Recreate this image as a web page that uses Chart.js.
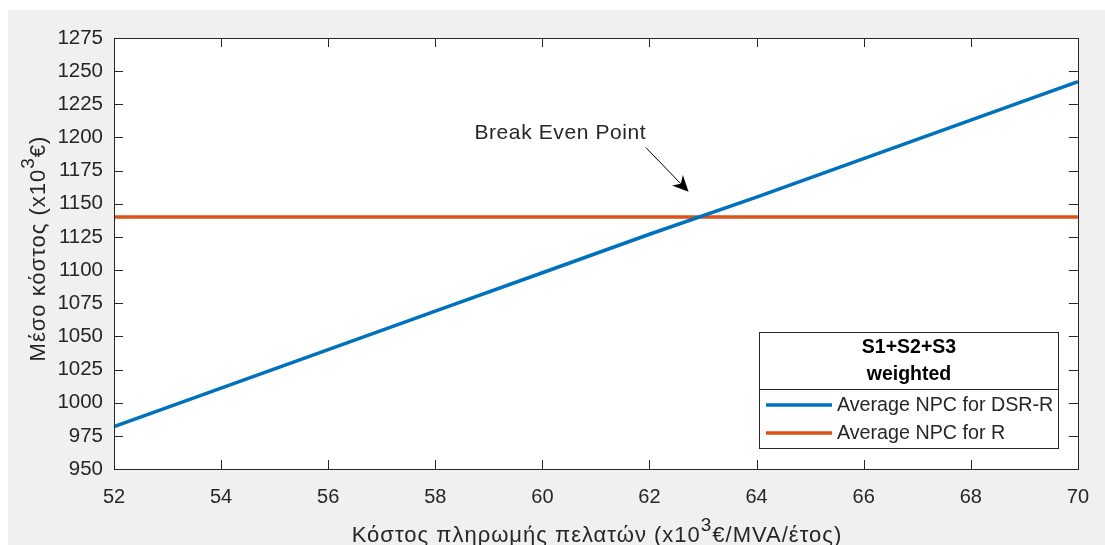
<!DOCTYPE html>
<html>
<head>
<meta charset="utf-8">
<script src="https://cdn.jsdelivr.net/npm/chart.js@4/dist/chart.umd.min.js"></script>
<style>
  html, body { margin: 0; padding: 0; background: #ffffff; }
  #wrap { width: 1105px; height: 545px; }
</style>
</head>
<body>
<div id="wrap"><canvas id="c" width="1105" height="545"></canvas></div>
<script>
// Customer payment cost (x10^3 €/MVA/year)
const paymentCost = [52, 54, 56, 58, 60, 62, 64, 66, 68, 70];
// Average NPC for DSR-R (x10^3 €)
const npcDsrR = [982, 1011, 1040, 1069, 1098, 1127, 1155, 1184, 1213, 1242];
// Average NPC for R (x10^3 €)
const npcR = [1140, 1140, 1140, 1140, 1140, 1140, 1140, 1140, 1140, 1140];

const xTicks = [52, 54, 56, 58, 60, 62, 64, 66, 68, 70];
const yTicks = [950, 975, 1000, 1025, 1050, 1075, 1100, 1125, 1150, 1175, 1200, 1225, 1250, 1275];

const seriesNames = ['Average NPC for DSR-R', 'Average NPC for R'];
const legendTitle = ['S1+S2+S3', 'weighted'];
// Axis titles, split so the exponent can be raised
const xTitleParts = ['Κόστος πληρωμής πελατών (x10', '3', '€/MVA/έτος)'];
const yTitleParts = ['Μέσο κόστος (x10', '3', '€)'];

// Annotation: label and arrow pointing at the crossing, in data units
const noteText = 'Break Even Point';
const noteAt = { x: 58.73, y: 1203.5 };
const arrowFrom = { x: 61.93, y: 1192.5 };
const arrowTo = { x: 62.73, y: 1159 };

const FONT = '"Liberation Sans", Arial, Helvetica, sans-serif';
const INK = '#262626';
const BLUE = '#0072BD';
const ORANGE = '#D95319';

const toPoints = (ys) => paymentCost.map((x, i) => ({ x: x, y: ys[i] }));

// Grey figure background and white axes area
const backdrop = {
  id: 'backdrop',
  beforeDraw(chart) {
    const { ctx, chartArea: a } = chart;
    ctx.save();
    ctx.fillStyle = '#ffffff';
    ctx.fillRect(0, 0, chart.width, chart.height);
    ctx.fillStyle = '#f0f0f0';
    ctx.fillRect(8, 10, chart.width - 8, chart.height - 10);
    ctx.fillStyle = '#ffffff';
    ctx.fillRect(a.left, a.top, a.right - a.left, a.bottom - a.top);
    ctx.restore();
  }
};

// Box frame with inward tick marks on all four sides
const axesBox = {
  id: 'axesBox',
  afterDatasetsDraw(chart) {
    const { ctx, chartArea: a, scales } = chart;
    const len = 9;
    ctx.save();
    ctx.strokeStyle = INK;
    ctx.lineWidth = 1;
    ctx.beginPath();
    xTicks.forEach(v => {
      const px = Math.round(scales.x.getPixelForValue(v)) + 0.5;
      ctx.moveTo(px, a.bottom); ctx.lineTo(px, a.bottom - len);
      ctx.moveTo(px, a.top); ctx.lineTo(px, a.top + len);
    });
    yTicks.forEach(v => {
      const py = Math.round(scales.y.getPixelForValue(v)) + 0.5;
      ctx.moveTo(a.left, py); ctx.lineTo(a.left + len, py);
      ctx.moveTo(a.right, py); ctx.lineTo(a.right - len, py);
    });
    ctx.stroke();
    ctx.strokeRect(Math.round(a.left) + 0.5, Math.round(a.top) + 0.5,
      Math.round(a.right - a.left), Math.round(a.bottom - a.top));
    ctx.restore();
  }
};

// Writes text with a raised exponent, centred on (0, 0) along the baseline
function drawWithExponent(ctx, parts, size, spacing) {
  const base = size + 'px ' + FONT;
  const sup = Math.round(size * 0.85) + 'px ' + FONT;
  ctx.letterSpacing = spacing + 'px';
  ctx.font = base; const w0 = ctx.measureText(parts[0]).width;
  ctx.font = sup;  const w1 = ctx.measureText(parts[1]).width;
  ctx.font = base; const w2 = ctx.measureText(parts[2]).width;
  let x = -(w0 + w1 + w2) / 2;
  ctx.textAlign = 'left';
  ctx.textBaseline = 'alphabetic';
  ctx.font = base; ctx.fillText(parts[0], x, 0); x += w0;
  ctx.font = sup;  ctx.fillText(parts[1], x, -size * 0.5); x += w1;
  ctx.font = base; ctx.fillText(parts[2], x, 0);
}

const axisTitles = {
  id: 'axisTitles',
  afterDraw(chart) {
    const { ctx, chartArea: a } = chart;
    ctx.save();
    ctx.fillStyle = INK;
    ctx.translate((a.left + a.right) / 2 + 1, 542);
    drawWithExponent(ctx, xTitleParts, 22, 1);
    ctx.restore();

    ctx.save();
    ctx.fillStyle = INK;
    ctx.translate(45, (a.top + a.bottom) / 2 - 5);
    ctx.rotate(-Math.PI / 2);
    drawWithExponent(ctx, yTitleParts, 22, 1);
    ctx.restore();
  }
};

// Text label with an arrow to the break-even point
const annotation = {
  id: 'annotation',
  afterDraw(chart) {
    const { ctx, scales } = chart;
    const sx = v => scales.x.getPixelForValue(v);
    const sy = v => scales.y.getPixelForValue(v);
    ctx.save();
    ctx.fillStyle = INK;
    ctx.font = '21px ' + FONT;
    ctx.letterSpacing = '0.6px';
    ctx.textAlign = 'left';
    ctx.textBaseline = 'middle';
    ctx.fillText(noteText, sx(noteAt.x), sy(noteAt.y));
    ctx.letterSpacing = '0px';

    const x0 = sx(arrowFrom.x), y0 = sy(arrowFrom.y);
    const x1 = sx(arrowTo.x), y1 = sy(arrowTo.y);
    const ang = Math.atan2(y1 - y0, x1 - x0);
    const hl = 16, hw = 7.5;
    ctx.strokeStyle = '#000000';
    ctx.fillStyle = '#000000';
    ctx.lineWidth = 1;
    ctx.beginPath();
    ctx.moveTo(x0, y0);
    ctx.lineTo(x1 - Math.cos(ang) * hl * 0.7, y1 - Math.sin(ang) * hl * 0.7);
    ctx.stroke();
    // notched arrowhead
    const bx = x1 - Math.cos(ang) * hl, by = y1 - Math.sin(ang) * hl;
    const nx = x1 - Math.cos(ang) * hl * 0.7, ny = y1 - Math.sin(ang) * hl * 0.7;
    const px = -Math.sin(ang), py = Math.cos(ang);
    ctx.beginPath();
    ctx.moveTo(x1, y1);
    ctx.lineTo(bx + px * hw, by + py * hw);
    ctx.lineTo(nx, ny);
    ctx.lineTo(bx - px * hw, by - py * hw);
    ctx.closePath();
    ctx.fill();
    ctx.restore();
  }
};

// Legend box with a two-line bold title
const legendBox = {
  id: 'legendBox',
  afterDraw(chart) {
    const { ctx } = chart;
    const L = 759.5, T = 332.5, R = 1058.5, B = 448.5, D = 389.5;
    ctx.save();
    ctx.fillStyle = '#ffffff';
    ctx.fillRect(L, T, R - L, B - T);
    ctx.strokeStyle = INK;
    ctx.lineWidth = 1;
    ctx.strokeRect(L, T, R - L, B - T);
    ctx.beginPath();
    ctx.moveTo(L, D); ctx.lineTo(R, D);
    ctx.stroke();

    ctx.fillStyle = '#000000';
    ctx.font = 'bold 19.5px ' + FONT;
    ctx.textAlign = 'center';
    ctx.textBaseline = 'middle';
    ctx.fillText(legendTitle[0], (L + R) / 2, 348);
    ctx.fillText(legendTitle[1], (L + R) / 2, 375);

    const rows = [405, 433];
    const ds = chart.data.datasets;
    ctx.font = '19.7px ' + FONT;
    ctx.textAlign = 'left';
    rows.forEach((y, i) => {
      ctx.strokeStyle = ds[i].borderColor;
      ctx.lineWidth = ds[i].borderWidth;
      ctx.beginPath();
      ctx.moveTo(766, y); ctx.lineTo(832, y);
      ctx.stroke();
      ctx.fillStyle = INK;
      ctx.fillText(ds[i].label, 837, y + 1);
    });
    ctx.restore();
  }
};

new Chart(document.getElementById('c'), {
  type: 'line',
  data: {
    datasets: [
      { label: seriesNames[0], data: toPoints(npcDsrR), borderColor: BLUE, borderWidth: 3.5, pointRadius: 0, tension: 0 },
      { label: seriesNames[1], data: toPoints(npcR), borderColor: ORANGE, borderWidth: 3.5, pointRadius: 0, tension: 0 }
    ]
  },
  options: {
    responsive: false,
    animation: false,
    devicePixelRatio: 1,
    layout: { padding: { left: 0, top: 38, right: 25, bottom: 0 } },
    plugins: { legend: { display: false }, tooltip: { enabled: false } },
    scales: {
      x: {
        type: 'linear',
        min: 52, max: 70,
        afterBuildTicks: s => { s.ticks = xTicks.map(v => ({ value: v })); },
        afterFit: s => { s.height = 76; },
        grid: { display: false, drawTicks: false },
        border: { display: false },
        ticks: { color: INK, font: { family: FONT, size: 20 }, padding: 16, maxRotation: 0, autoSkip: false,
                 callback: v => String(v) },
        title: { display: false }
      },
      y: {
        type: 'linear',
        min: 950, max: 1275,
        afterBuildTicks: s => { s.ticks = yTicks.map(v => ({ value: v })); },
        afterFit: s => { s.width = 114; },
        grid: { display: false, drawTicks: false },
        border: { display: false },
        ticks: { color: INK, font: { family: FONT, size: 20.5 }, padding: 11, autoSkip: false,
                 callback: v => String(v) },
        title: { display: false }
      }
    }
  },
  plugins: [backdrop, axesBox, annotation, legendBox, axisTitles]
});
</script>
</body>
</html>
